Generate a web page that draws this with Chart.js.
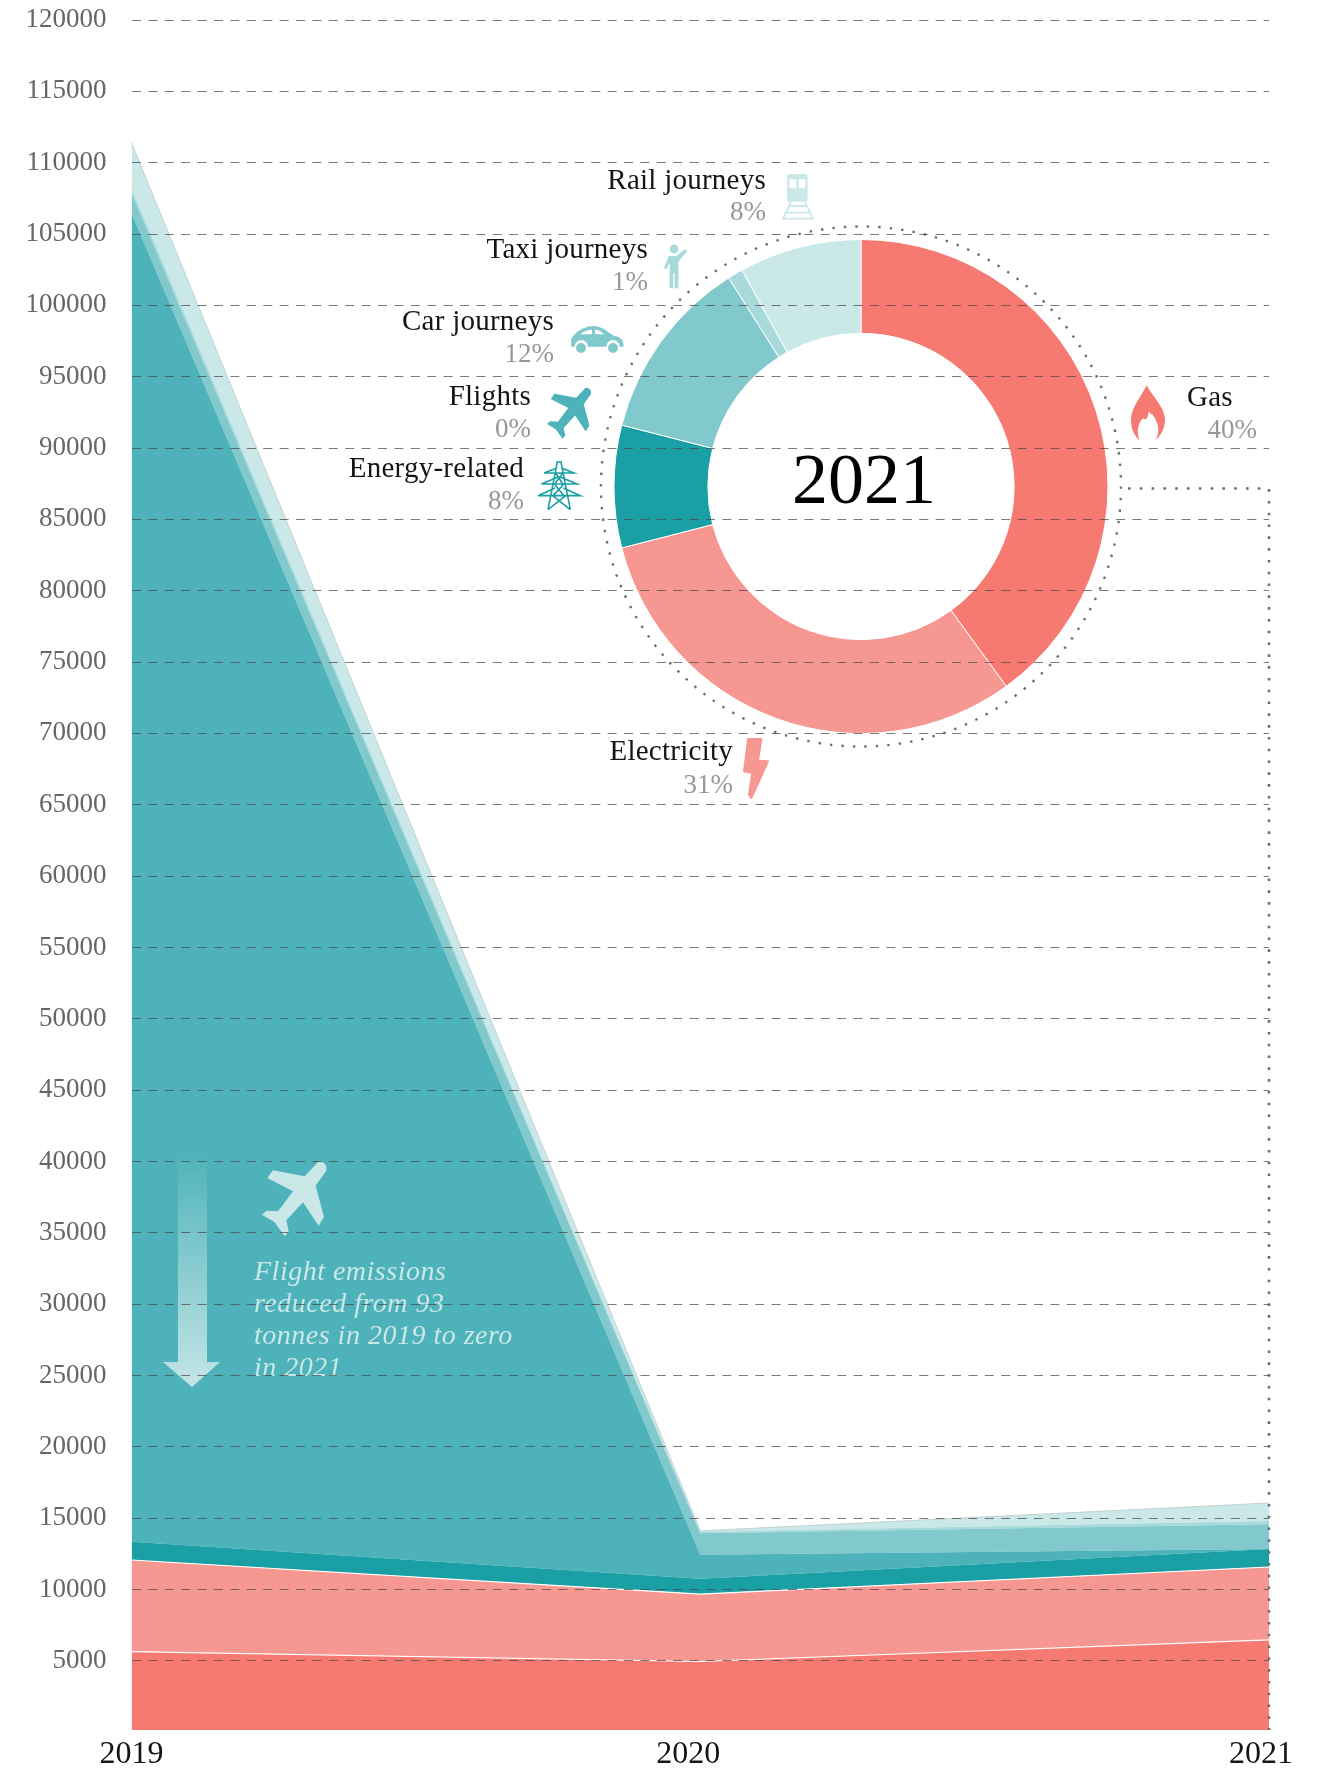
<!DOCTYPE html>
<html>
<head>
<meta charset="utf-8">
<title>Emissions 2019-2021</title>
<script src="https://cdn.jsdelivr.net/npm/chart.js"></script>
<style>
  html, body { margin: 0; background: #fff; }
  #wrap { position: relative; width: 1324px; height: 1770px; }
  #wrap canvas { position: absolute; left: 0; top: 0; }
</style>
</head>
<body>
<div id="wrap">
  <canvas id="mix" width="1324" height="1770"></canvas>
  <canvas id="trend" width="1324" height="1770"></canvas>
</div>
<script>
const years = ["2019", "2020", "2021"];
const yTicks = [5000, 10000, 15000, 20000, 25000, 30000, 35000, 40000, 45000, 50000, 55000, 60000,
  65000, 70000, 75000, 80000, 85000, 90000, 95000, 100000, 105000, 110000, 115000, 120000];

// kg per source, stacked bottom to top
const gas = [5650, 4950, 6460];
const electricity = [6416, 4730, 5116];
const energyRelated = [1283, 1075, 1261];
const flights = [93100, 1682, 0];
const carJourneys = [1423, 1500, 1731];
const taxiJourneys = [325, 100, 232];
const railJourneys = [3200, 70, 1260];

const mixNames = ["Gas", "Electricity", "Energy-related", "Flights", "Car journeys", "Taxi journeys", "Rail journeys"];
const mixShares = [40, 31, 8, 0, 12, 1, 8];

const colors = {
  gas: "#f67a71",
  electricity: "#f69891",
  energy: "#1a9fa5",
  flights: "#4db2b9",
  car: "#81c9cc",
  taxi: "#a8d9db",
  rail: "#cbe8e9",
};
const serif = '"Liberation Serif", serif';

// icon outlines, 3 units to the pixel
const planeIcon = new Path2D("M168 0 C185 -3 196 8 193 26 L161 71 L186 165 L170 191 L123 121 L73 175 L80 208 L68 223 L38 181 L0 158 L13 146 L48 148 L93 88 L16 48 L33 25 L128 43 Z");
const flameIcon = new Path2D("M47 0 C60 30 102 65 102 105 C102 135 85 155 72 167 C88 145 85 115 62 85 C62 95 54 78 54 77 C52 90 48 110 36 100 C20 115 15 145 27 167 C12 155 0 135 0 105 C0 65 35 30 47 0 Z");
const boltIcon = new Path2D("M12 0 L52 0 L42 65 L72 67 L22 177 L15 167 L25 102 L0 97 Z");
const carIcon = new Path2D("M0 62 L0 42 C8 20 38 0 68 0 C93 0 108 17 128 29 C148 32 158 40 158 62 L146 62 A20 20 0 0 0 106 62 L51 62 A20 20 0 0 0 11 62 Z M28 25 C36 17 48 12 63 11 L63 25 Z M72 11 C83 11 90 17 100 25 L72 25 Z");
const personIcon = new Path2D("M14 48 L37 48 L63 28 L69 34 L43 65 L43 145 L32 145 L32 100 L28 100 L28 145 L17 145 L17 70 L7 88 L0 85 Z");
const trainBody = new Path2D("M8 0 L54 0 Q62 0 62 8 L62 75 Q62 83 54 83 L8 83 Q0 83 0 75 L0 8 Q0 0 8 0 Z M7 16 L7 43 L28 43 L28 16 Z M35 16 L35 43 L55 43 L55 16 Z");
const trainRails = new Path2D("M27 83 L2 137 M69 83 L94 137 M21 96 L75 96 M11 116 L85 116 M3 134 L93 134");
const pylonLines = new Path2D("M55 0 L72 0 M58 0 L30 143 M69 0 L97 143 M18 33 L108 33 L70 18 M18 33 L57 18 M10 66 L117 66 L66 45 M10 66 L60 45 M0 101 L127 101 L76 78 M0 101 L51 78 M53 33 L74 66 M74 33 L50 66 M49 66 L78 101 M78 66 L45 101 M44 101 L97 143 M83 101 L30 143");

function drawIcon(ctx, icon, x, y, scale, color, rule) {
  ctx.save();
  ctx.translate(x, y);
  ctx.scale(scale, scale);
  ctx.fillStyle = color;
  ctx.fill(icon, rule || "nonzero");
  ctx.restore();
}

function strokeIcon(ctx, icon, x, y, scale, color, width) {
  ctx.save();
  ctx.translate(x, y);
  ctx.scale(scale, scale);
  ctx.strokeStyle = color;
  ctx.lineWidth = width / scale;
  ctx.stroke(icon);
  ctx.restore();
}

function label(ctx, text, x, y, font, color, align) {
  ctx.font = font;
  ctx.fillStyle = color;
  ctx.textAlign = align || "right";
  ctx.textBaseline = "alphabetic";
  ctx.fillText(text, x, y);
}

// source names and percentages around the ring
function drawMixLabels(ctx) {
  const place = [
    [0, 1187, 406, 1257, 438, "left"],
    [1, 733, 760, 733, 793],
    [2, 524, 477, 524, 509],
    [3, 531, 405, 531, 437],
    [4, 554, 330, 554, 362],
    [5, 648, 258, 648, 290],
    [6, 766, 189, 766, 220],
  ];
  place.forEach(([i, nx, ny, px, py, align]) => {
    ctx.letterSpacing = "0.25px";
    label(ctx, mixNames[i], nx, ny, "29px " + serif, "#151515", align);
    ctx.letterSpacing = "0px";
    label(ctx, mixShares[i] + "%", px, py, "27px " + serif, "#979797");
  });

  drawIcon(ctx, flameIcon, 1131, 385, 1 / 3, colors.gas);

  ctx.save();
  ctx.lineJoin = "round";
  ctx.translate(744, 739);
  ctx.scale(1 / 3, 1 / 3);
  ctx.fillStyle = colors.electricity;
  ctx.strokeStyle = colors.electricity;
  ctx.lineWidth = 6;
  ctx.fill(boltIcon);
  ctx.stroke(boltIcon);
  ctx.restore();

  strokeIcon(ctx, pylonLines, 538, 462, 1 / 3, colors.energy, 1.6);
  drawIcon(ctx, planeIcon, 547, 388, 0.228, colors.flights);

  drawIcon(ctx, carIcon, 571, 326, 1 / 3, colors.car, "evenodd");
  ctx.fillStyle = colors.car;
  ctx.beginPath();
  ctx.arc(581, 348, 5, 0, Math.PI * 2);
  ctx.arc(613, 348, 5, 0, Math.PI * 2);
  ctx.fill();

  drawIcon(ctx, personIcon, 664, 240, 1 / 3, colors.taxi);
  ctx.fillStyle = colors.taxi;
  ctx.beginPath();
  ctx.arc(674, 249, 4.4, 0, Math.PI * 2);
  ctx.fill();

  drawIcon(ctx, trainBody, 787, 174, 1 / 3, colors.rail, "evenodd");
  strokeIcon(ctx, trainRails, 782, 174, 1 / 3, colors.rail, 1.8);
}

// fading arrow, plane and note on the flights band
function drawFlightNote(ctx) {
  const fade = ctx.createLinearGradient(0, 1150, 0, 1387);
  fade.addColorStop(0, "rgba(203,232,233,0)");
  fade.addColorStop(1, "rgba(203,232,233,0.95)");
  ctx.fillStyle = fade;
  ctx.beginPath();
  ctx.moveTo(178, 1150);
  ctx.lineTo(207, 1150);
  ctx.lineTo(207, 1362);
  ctx.lineTo(220, 1362);
  ctx.lineTo(192, 1387);
  ctx.lineTo(163, 1362);
  ctx.lineTo(178, 1362);
  ctx.closePath();
  ctx.fill();

  drawIcon(ctx, planeIcon, 262, 1162, 1 / 3, colors.rail);

  const note = ["Flight emissions", "reduced from 93", "tonnes in 2019 to zero", "in 2021"];
  note.forEach((line, i) => {
    ctx.letterSpacing = "0.5px";
    label(ctx, line, 254, 1280 + i * 32, "italic 28px " + serif, colors.rail, "left");
  });
  ctx.letterSpacing = "0px";
}

const trendExtras = {
  id: "trendExtras",
  afterDatasetsDraw(chart) {
    const ctx = chart.ctx;
    const { x, y } = chart.scales;
    ctx.save();
    drawMixLabels(ctx);
    drawFlightNote(ctx);

    // dotted leader from the ring down the 2021 edge
    const edge = x.getPixelForValue(2);
    ctx.strokeStyle = "#6e6e6e";
    ctx.lineWidth = 2.6;
    ctx.setLineDash([2.6, 9.2]);
    ctx.beginPath();
    ctx.moveTo(1128, 488.5);
    ctx.lineTo(edge, 488.5);
    ctx.lineTo(edge, y.bottom);
    ctx.stroke();
    ctx.setLineDash([]);

    // year labels, the last two pulled left of their points
    const nudge = [0, -12, -8];
    years.forEach((year, i) => {
      label(ctx, year, x.getPixelForValue(i) + nudge[i], 1763, "32px " + serif, "#151515", "center");
    });
    ctx.restore();
  },
};

const mixRing = {
  id: "mixRing",
  afterDraw(chart) {
    const arc = chart.getDatasetMeta(0).data[0];
    const ctx = chart.ctx;
    ctx.save();
    ctx.strokeStyle = "#6e6e6e";
    ctx.lineWidth = 2.4;
    ctx.setLineDash([2.4, 9.1]);
    ctx.beginPath();
    ctx.arc(arc.x, arc.y, 260, 0, Math.PI * 2);
    ctx.stroke();
    ctx.setLineDash([]);
    label(ctx, "2021", arc.x + 3, 503, "72px " + serif, "#000", "center");
    ctx.restore();
  },
};

new Chart(document.getElementById("mix"), {
  type: "doughnut",
  data: {
    labels: mixNames,
    datasets: [{
      data: mixShares,
      backgroundColor: [colors.gas, colors.electricity, colors.energy, colors.flights, colors.car, colors.taxi, colors.rail],
      borderColor: "#fff",
      borderWidth: 1,
    }],
  },
  options: {
    responsive: false,
    animation: false,
    cutout: "62%",
    layout: { padding: { left: 613, right: 215, top: 239, bottom: 1036 } },
    plugins: { legend: { display: false }, tooltip: { enabled: false } },
  },
  plugins: [mixRing],
});

function band(name, values, color, line, lineWidth) {
  return {
    label: name,
    data: values,
    backgroundColor: color,
    borderColor: line || color,
    borderWidth: lineWidth === undefined ? 0 : lineWidth,
    fill: name === "Gas" ? "origin" : "-1",
    pointRadius: 0,
    tension: 0,
  };
}

new Chart(document.getElementById("trend"), {
  type: "line",
  data: {
    labels: years,
    datasets: [
      band("Gas", gas, colors.gas, "#fff", 1.2),
      band("Electricity", electricity, colors.electricity, "#fff", 1.2),
      band("Energy-related", energyRelated, colors.energy),
      band("Flights", flights, colors.flights),
      band("Car journeys", carJourneys, colors.car),
      band("Taxi journeys", taxiJourneys, colors.taxi),
      band("Rail journeys", railJourneys, colors.rail, "#c4d2d3", 1),
    ],
  },
  options: {
    responsive: false,
    animation: false,
    layout: { padding: { top: 20, right: 55, bottom: 40, left: 0 } },
    plugins: { legend: { display: false }, tooltip: { enabled: false } },
    scales: {
      x: {
        grid: { display: false },
        border: { display: false },
        ticks: { display: false },
        afterFit(scale) {
          scale.height = 0;
          scale.paddingLeft = 0;
          scale.paddingRight = 0;
        },
      },
      y: {
        stacked: true,
        min: 150,
        max: 120000,
        afterFit(scale) {
          scale.width = 131.5;
          scale.paddingTop = 0;
          scale.paddingBottom = 0;
        },
        afterBuildTicks(scale) {
          scale.ticks = yTicks.map((value) => ({ value }));
        },
        // dashes sit over the areas and the ring
        border: { display: false, dash: [9, 7.4] },
        grid: {
          z: 1,
          color: "rgba(70,70,70,0.72)",
          lineWidth: 1,
          drawTicks: false,
        },
        ticks: {
          autoSkip: false,
          padding: 25,
          color: "#666",
          font: { family: serif, size: 27 },
          callback: (value) => String(value),
        },
      },
    },
  },
  plugins: [trendExtras],
});
</script>
</body>
</html>
